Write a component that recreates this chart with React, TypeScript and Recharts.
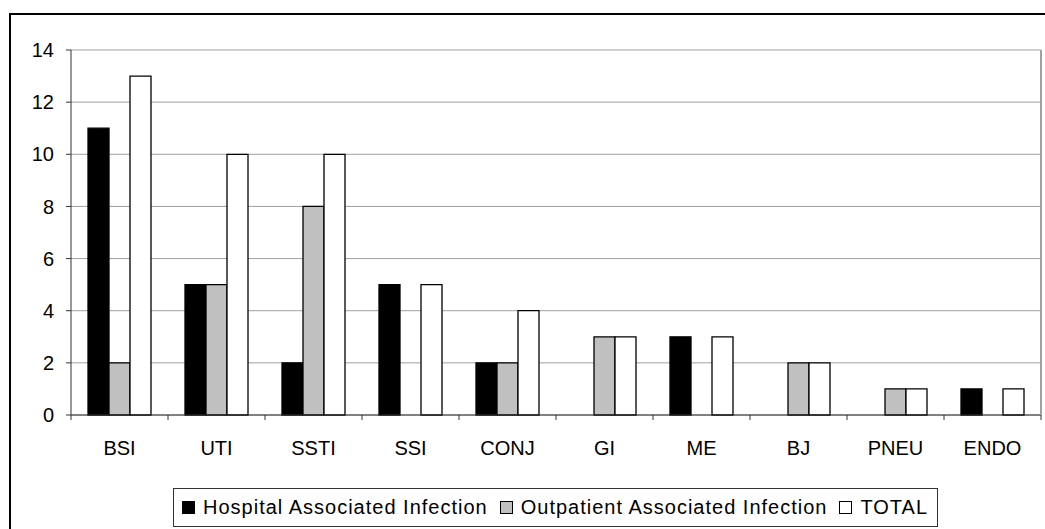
import React from "react";
import { BarChart, Bar, XAxis, YAxis, CartesianGrid } from "recharts";

// infection counts by site
const CATEGORIES = ["BSI", "UTI", "SSTI", "SSI", "CONJ", "GI", "ME", "BJ", "PNEU", "ENDO"];
const HOSPITAL = [11, 5, 2, 5, 2, 0, 3, 0, 0, 1];
const OUTPATIENT = [2, 5, 8, 0, 2, 3, 0, 2, 1, 0];
const TOTAL = [13, 10, 10, 5, 4, 3, 3, 2, 1, 1];
const Y_TICKS = [0, 2, 4, 6, 8, 10, 12, 14];

const SERIES = [
  { key: "hospital", name: "Hospital Associated Infection", fill: "#000000" },
  { key: "outpatient", name: "Outpatient Associated Infection", fill: "#c0c0c0" },
  { key: "total", name: "TOTAL", fill: "#ffffff" },
];

const data = CATEGORIES.map((cat, i) => ({
  cat,
  hospital: HOSPITAL[i],
  outpatient: OUTPATIENT[i],
  total: TOTAL[i],
}));

const FONT = "'Liberation Sans', Arial, sans-serif";
const AXIS = "#333333";
const W = 1045;
const H = 529;

function CategoryTick(props: any) {
  const { x, y, payload, index } = props;
  const half = payload.offset ?? 48.5;
  return (
    <g>
      <line x1={x - half} x2={x - half} y1={y} y2={y + 5} stroke={AXIS} />
      {index === CATEGORIES.length - 1 && (
        <line x1={x + half} x2={x + half} y1={y} y2={y + 5} stroke={AXIS} />
      )}
      <text x={x} y={y + 40} textAnchor="middle" fontSize={20} fontFamily={FONT} fill="#000">
        {payload.value}
      </text>
    </g>
  );
}

export default function App() {
  return (
    <div style={{ position: "absolute", left: 0, top: 0, width: W, height: H, overflow: "hidden", background: "#fff" }}>
      <div
        style={{
          position: "absolute",
          left: 9,
          top: 13,
          width: W - 9,
          height: H - 13,
          borderTop: "2px solid #000",
          borderLeft: "2px solid #000",
          boxSizing: "border-box",
        }}
      />
      <div style={{ position: "absolute", left: 0, top: 0 }}>
        <BarChart
          width={W}
          height={H}
          data={data}
          margin={{ top: 50, right: 0, bottom: 74, left: 0 }}
          barGap={0}
          barSize={21}
        >
          <CartesianGrid vertical={false} stroke="#a0a0a0" yAxisId="left" />
          <XAxis
            dataKey="cat"
            height={40}
            interval={0}
            tickSize={0}
            tickMargin={0}
            axisLine={{ stroke: AXIS }}
            tick={<CategoryTick />}
          />
          <YAxis
            yAxisId="left"
            width={71}
            domain={[0, 14]}
            ticks={Y_TICKS}
            interval={0}
            tickSize={5}
            tickMargin={12}
            axisLine={{ stroke: AXIS }}
            tickLine={{ stroke: AXIS }}
            tick={{ fontSize: 20, fontFamily: FONT, fill: "#000" }}
          />
          <YAxis
            yAxisId="right"
            orientation="right"
            width={4}
            domain={[0, 14]}
            tick={false}
            tickLine={false}
            axisLine={{ stroke: "#a0a0a0", strokeWidth: 2 }}
          />
          {SERIES.map((s) => (
            <Bar
              key={s.key}
              yAxisId="left"
              dataKey={s.key}
              name={s.name}
              fill={s.fill}
              stroke="#000"
              strokeWidth={1.3}
              isAnimationActive={false}
            />
          ))}
        </BarChart>
      </div>
      <div
        style={{
          position: "absolute",
          left: 173,
          top: 488,
          width: 765,
          height: 39,
          border: "1px solid #333",
          boxSizing: "border-box",
          display: "flex",
          alignItems: "center",
          paddingLeft: 8,
          fontFamily: FONT,
          fontSize: 20,
          letterSpacing: 1,
          color: "#000",
          whiteSpace: "nowrap",
        }}
      >
        {SERIES.map((s) => (
          <span key={s.key} style={{ display: "inline-flex", alignItems: "center", marginRight: 12 }}>
            <span
              style={{
                display: "inline-block",
                width: 11,
                height: 11,
                background: s.fill,
                border: "1px solid #000",
                marginRight: 8,
              }}
            />
            {s.name}
          </span>
        ))}
      </div>
    </div>
  );
}
